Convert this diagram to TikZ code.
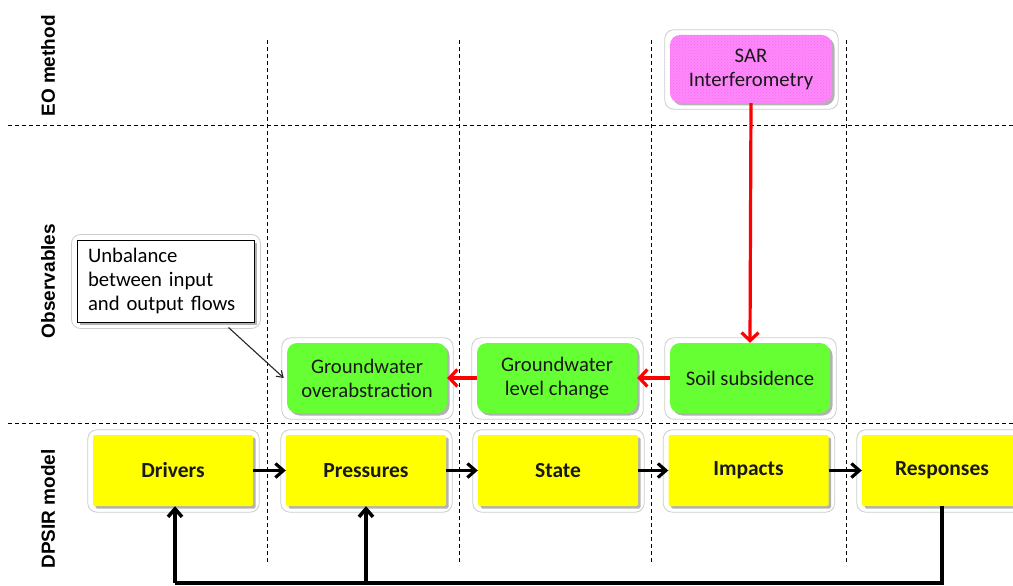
\documentclass[tikz,border=0pt]{standalone}
\usepackage{fontspec}
\setmainfont{Carlito}
\newfontfamily\arialfam{Liberation Sans}
\usetikzlibrary{arrows.meta,shadows,backgrounds,patterns}
\definecolor{obsgreen}{RGB}{102,255,51}
\definecolor{dpyellow}{RGB}{255,255,0}
\definecolor{eopink}{RGB}{255,136,255}
\definecolor{halogray}{RGB}{205,205,205}
\begin{document}
\begin{tikzpicture}[x=1pt,y=-1pt,
  fs/.style={font=\fontsize{20.7}{24}\selectfont},
  shadowed/.style={drop shadow={shadow xshift=2.5pt,shadow yshift=-2.5pt,opacity=0.3,fill=black}},
  box/.style={fs, align=center, inner sep=0pt, shadowed, text=black!90},
  gbox/.style={box, fill=obsgreen, rounded corners=10pt, minimum width=160pt, minimum height=70pt},
  pbox/.style={box, fill=eopink, rounded corners=10pt, minimum width=162pt, minimum height=68pt,
    postaction={pattern=crosshatch dots, pattern color=purple, opacity=0.18}},
  ybox/.style={box, fill=dpyellow, rounded corners=1.5pt, minimum width=160pt, minimum height=71pt, font=\fontsize{21.5}{25}\selectfont\bfseries},
  notebox/.style={fs, draw=black, line width=1pt, fill=white, align=left, text width=155pt, inner sep=0pt, minimum width=177pt, minimum height=82pt, shadowed},
  rowlabel/.style={rotate=90, font=\arialfam\fontsize{19}{22}\selectfont\bfseries},
  grid/.style={line width=0.9pt, dash pattern=on 4pt off 3pt},
  halo/.style={draw=halogray, line width=0.8pt, fill=white, rounded corners=9pt},
  redarrow/.style={draw=red, line width=3.2pt, -{Straight Barb[length=8pt,width=17pt]}},
  blkarrow/.style={draw=black, line width=3.2pt, -{Straight Barb[length=8pt,width=14pt]}},
  fbline/.style={draw=black, line width=3.5pt},
  notearrow/.style={draw=black!85, line width=1.1pt, -{Straight Barb[length=6pt,width=8pt]}}
]
\useasboundingbox (0,0) rectangle (1013,586);
\clip (0,0) rectangle (1013,586);

% grid lines
\draw[grid] (8,125) -- (1013,125);
\draw[grid] (8,423) -- (1013,423);
\foreach \x in {267,459,651,846} \draw[grid] (\x,40) -- (\x,565);

% row labels
\node[rowlabel] (lEO) at (48,66) {EO method};
\node[rowlabel] (lObs) at (48,281) {Observables};
\node[rowlabel] (lDP) at (48,509) {DPSIR model};

% nodes
\node[pbox] (sar) at (751,69) {SAR\\Interferometry};
\node[gbox] (gwo) at (367,378) {Groundwater\\overabstraction};
\node[gbox] (gwl) at (557,378) {Groundwater\\level change};
\node[gbox] (soil) at (750,378) {Soil subsidence};
\node[notebox] (note) at (165.5,281) {Unbalance\\between input\\and output flows};

\node[ybox] (drivers) at (173,470.5) {Drivers};
\node[ybox] (pressures) at (366,470.5) {Pressures};
\node[ybox] (state) at (558,470.5) {State};
\node[ybox] (impacts) at (748.5,470.5) {Impacts};
\node[ybox] (responses) at (942,470.5) {Responses};

% halos
\begin{scope}[on background layer]
  \foreach \n in {sar,gwo,gwl,soil,drivers,pressures,state,impacts,responses,note}
    \draw[halo] ([shift={(-5,-5)}]\n.north west) rectangle ([shift={(6,6)}]\n.south east);
\end{scope}

% red arrows
\draw[redarrow] (sar.south) -- (soil.north);
\draw[redarrow] (soil.west) -- (gwl.east);
\draw[redarrow] (gwl.west) -- (gwo.east);

% note arrow
\draw[notearrow] ([shift={(-26,5)}]note.south east) -- ([xshift=-3]gwo.west);

% DPSIR chain
\draw[blkarrow] (drivers.east) -- (pressures.west);
\draw[blkarrow] (pressures.east) -- (state.west);
\draw[blkarrow] (state.east) -- (impacts.west);
\draw[blkarrow] (impacts.east) -- (responses.west);

% feedback loop
\coordinate (fbR) at (942,583);
\coordinate (fbM) at (366,583);
\coordinate (fbL) at (175,583);
\draw[fbline] (responses.south) -- (fbR) -- (fbL);
\draw[blkarrow, line width=3.5pt] (fbL) -- ([xshift=2pt]drivers.south);
\draw[blkarrow, line width=3.5pt] (fbM) -- (pressures.south);
\end{tikzpicture}
\end{document}
